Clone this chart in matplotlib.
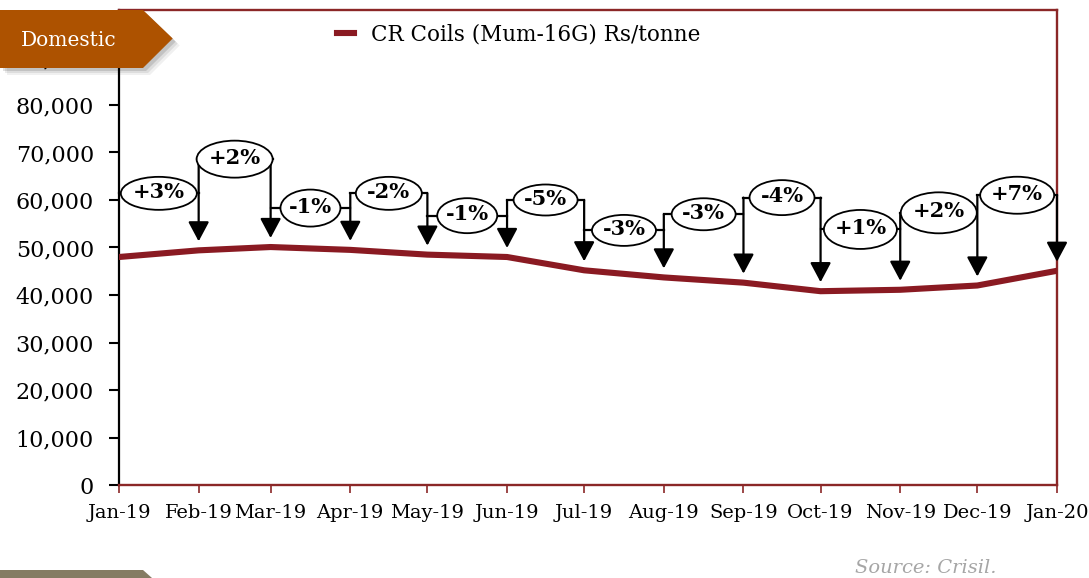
import matplotlib
matplotlib.use('Agg')
import matplotlib.pyplot as plt
import matplotlib.dates as mdates
from matplotlib.patches import Ellipse, Polygon
from matplotlib.ticker import FuncFormatter
import datetime as dt

# ---------------- data ----------------
months = ['2019-01-01', '2019-02-01', '2019-03-01', '2019-04-01', '2019-05-01',
          '2019-06-01', '2019-07-01', '2019-08-01', '2019-09-01', '2019-10-01',
          '2019-11-01', '2019-12-01', '2020-01-01']
prices = [48000, 49400, 50100, 49500, 48500, 48000, 45200, 43700, 42600,
          40800, 41100, 42000, 45100]
changes = ['+3%', '+2%', '-1%', '-2%', '-1%', '-5%', '-3%', '-3%', '-4%',
           '+1%', '+2%', '+7%']
series_name = 'CR Coils (Mum-16G) Rs/tonne'

# layout of the change call-outs (value level of bubble centre, bubble size in px)
bubble_level = [61400, 68600, 58300, 61400, 56700, 60000, 53600, 57000, 60500,
                53800, 57300, 61000]
bubble_w = [76, 76, 60, 66, 60, 64, 64, 64, 65, 73, 76, 74]
bubble_h = [33, 37, 37, 33, 35, 31, 31, 32, 35, 39, 41, 37]

LINE = '#8A1A22'
RED = '#8B2727'
BADGE = '#AD5200'
SERIF = 'DejaVu Serif'

W, H = 1089, 578
fig = plt.figure(figsize=(W / 100, H / 100), dpi=100)
L, R, B, T = 119, 1057, 485, 10
ax = fig.add_axes([L / W, 1 - B / H, (R - L) / W, (B - T) / H])

x = mdates.date2num([dt.datetime.strptime(m, '%Y-%m-%d') for m in months])
ax.plot(x, prices, color=LINE, lw=4.4, label=series_name, zorder=3,
        solid_joinstyle='round')
ax.set_xlim(x[0], x[-1])
ax.set_ylim(0, 100000)
ax.set_yticks(range(0, 90001, 10000))
ax.yaxis.set_major_formatter(FuncFormatter(lambda v, p: f'{int(v):,}'))
ax.set_xticks(x)
ax.xaxis.set_major_formatter(mdates.DateFormatter('%b-%y'))

for lab in ax.get_yticklabels() + ax.get_xticklabels():
    lab.set_family(SERIF)

for s in ['top', 'right', 'bottom']:
    ax.spines[s].set_color(RED)
    ax.spines[s].set_linewidth(1.7)
ax.spines['left'].set_color('black')
ax.spines['left'].set_linewidth(1.6)
ax.tick_params(axis='y', direction='out', length=7, width=1.5, color='black',
               pad=11, labelsize=16)
ax.tick_params(axis='x', direction='out', length=6, width=1.2, color=RED,
               pad=8, labelsize=14)

# px -> data scale
dx = (x[-1] - x[0]) / (R - L)
dy = 100000 / (B - T)

for i, lab in enumerate(changes):
    cx = (x[i] + x[i + 1]) / 2
    cy = bubble_level[i]
    w = bubble_w[i] * dx
    h = bubble_h[i] * dy
    ax.add_patch(Ellipse((cx, cy), w, h, facecolor='white', edgecolor='black',
                         lw=1.3, zorder=5, clip_on=False))
    ax.text(cx, cy + 300, lab, ha='center', va='center', fontsize=15,
            fontweight='bold', family=SERIF, zorder=6)
    ax.plot([x[i], cx - w / 2], [cy, cy], color='black', lw=1.6, zorder=4,
            clip_on=False)
    ax.plot([cx + w / 2, x[i + 1]], [cy, cy], color='black', lw=1.6, zorder=4,
            clip_on=False)

for j in range(1, len(x)):
    top = bubble_level[j - 1]
    if j < len(changes):
        top = max(top, bubble_level[j])
    ax.annotate('', xy=(x[j], prices[j] + 1900), xytext=(x[j], top),
                arrowprops=dict(arrowstyle='-|>,head_length=0.6,head_width=0.32',
                                lw=1.6, color='black', mutation_scale=20,
                                shrinkA=0, shrinkB=0),
                zorder=4, annotation_clip=False)

leg = ax.legend(loc='center left', bbox_to_anchor=(337 / W, 1 - 35 / H),
                bbox_transform=fig.transFigure, frameon=False,
                handlelength=0.8, handletextpad=0.8, borderpad=0,
                borderaxespad=0, prop={'family': SERIF, 'size': 15.5})


def fp(pts):
    return [(px / W, 1 - py / H) for px, py in pts]


badge = [(0, 10), (143, 10), (172.7, 38.5), (143, 68), (0, 68)]
for k, a in [(7, 0.06), (5, 0.08), (3, 0.12)]:
    fig.add_artist(Polygon(fp([(px + k, py + k) for px, py in badge]),
                           closed=True, facecolor='black', edgecolor='none',
                           alpha=a, zorder=9, transform=fig.transFigure))
fig.add_artist(Polygon(fp(badge), closed=True, facecolor=BADGE, edgecolor='none',
                       zorder=10, transform=fig.transFigure))
fig.text(69 / W, 1 - 40 / H, 'Domestic', color='white', family=SERIF,
         fontsize=14.5, ha='center', va='center', zorder=11)

fig.add_artist(Polygon(fp([(0, 570), (143, 570), (152, 578), (0, 578)]),
                       closed=True, facecolor='#857C63', edgecolor='none',
                       zorder=10, transform=fig.transFigure))
fig.text(855 / W, 1 - 568 / H, 'Source: Crisil.', color='#A6A6A6', family=SERIF,
         style='italic', fontsize=14, ha='left', va='center')

fig.savefig('out.png', dpi=100)
